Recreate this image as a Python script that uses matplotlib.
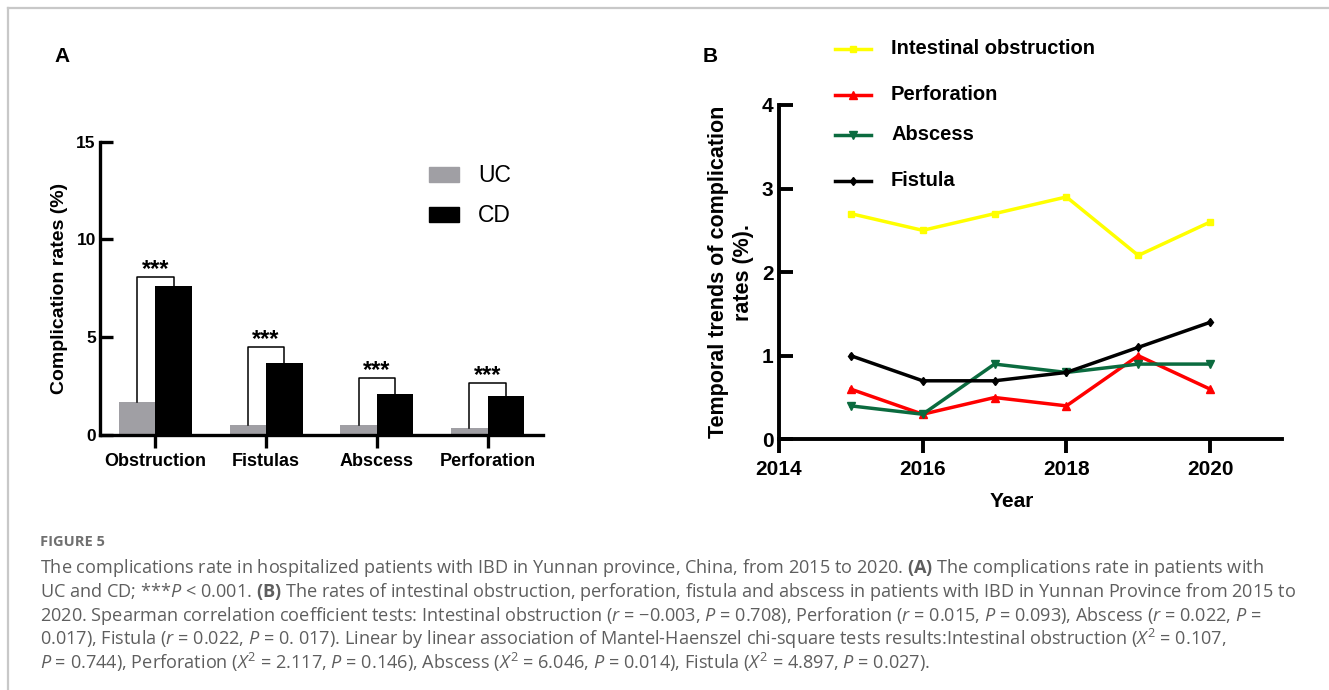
import matplotlib
matplotlib.use("Agg")
import matplotlib.pyplot as plt
import numpy as np
from matplotlib.lines import Line2D
from matplotlib.patches import Rectangle

# panel A data
categories = ["Obstruction", "Fistulas", "Abscess", "Perforation"]
uc_rates = [1.7, 0.5, 0.5, 0.35]
cd_rates = [7.6, 3.7, 2.1, 2.0]
bracket_tops = [8.1, 4.5, 2.9, 2.65]
sig_marks = ["***", "***", "***", "***"]

# panel B data
years = [2015, 2016, 2017, 2018, 2019, 2020]
obstruction = [2.7, 2.5, 2.7, 2.9, 2.2, 2.6]
perforation = [0.6, 0.3, 0.5, 0.4, 1.0, 0.6]
abscess = [0.4, 0.3, 0.9, 0.8, 0.9, 0.9]
fistula = [1.0, 0.7, 0.7, 0.8, 1.1, 1.4]

W, H = 1329, 690
ARIAL = "Liberation Sans"

plt.rcParams['mathtext.fontset'] = 'custom'
plt.rcParams['mathtext.rm'] = 'Open Sans'
plt.rcParams['mathtext.it'] = 'Open Sans:italic'
plt.rcParams['mathtext.bf'] = 'Open Sans:bold'

fig = plt.figure(figsize=(W / 100, H / 100), dpi=100)


def fx(x):
    return x / W


def fy(y):
    return 1 - y / H


# outer frame of the page
fig.add_artist(Line2D([fx(7.5), 1], [fy(7.5), fy(7.5)], color="#c8c8c8", lw=1.6))
fig.add_artist(Line2D([fx(7.5), fx(7.5)], [fy(7.5), 0], color="#c8c8c8", lw=1.6))

# ---------------- Panel A ----------------
axA = fig.add_axes([fx(100), fy(435), (543 - 100) / W, (435 - 141.7) / H])
x = np.arange(len(categories))
bw = 0.33
axA.bar(x - bw / 2, uc_rates, bw, color="#a09fa4", zorder=2)
axA.bar(x + bw / 2, cd_rates, bw, color="black", zorder=2)
for i in range(len(categories)):
    xl, xr = x[i] - bw / 2, x[i] + bw / 2
    axA.plot([xl, xl, xr, xr], [uc_rates[i], bracket_tops[i], bracket_tops[i], cd_rates[i]],
             color="black", lw=1.1, zorder=3)
    axA.text(x[i], bracket_tops[i] + 0.05, sig_marks[i], ha="center", va="baseline",
             fontsize=17, fontweight="bold", family=ARIAL)
axA.set_xlim(-0.5, 3.5)
axA.set_ylim(0, 15)
axA.set_yticks([0, 5, 10, 15])
axA.set_xticks(x)
axA.set_xticklabels(categories)
for s in ["top", "right"]:
    axA.spines[s].set_visible(False)
for s in ["left", "bottom"]:
    axA.spines[s].set_linewidth(2.4)
axA.tick_params(axis="y", direction="in", length=9, width=2.4, pad=3, labelsize=12.5)
axA.tick_params(axis="x", direction="out", length=9, width=2.4, pad=4, labelsize=13)
for lab in axA.get_xticklabels() + axA.get_yticklabels():
    lab.set_fontweight("bold")
    lab.set_family(ARIAL)
axA.set_ylabel("Complication rates (%)", fontsize=14, fontweight="bold", family=ARIAL)
axA.yaxis.set_label_coords(-0.072, 0.5)

# legend A
fig.add_artist(Rectangle((fx(429), fy(182)), 30 / W, 15 / H, color="#a09fa4"))
fig.add_artist(Rectangle((fx(429), fy(222)), 30 / W, 15 / H, color="black"))
fig.text(fx(478), fy(175), "UC", fontsize=16.5, family=ARIAL, va="center")
fig.text(fx(478), fy(215), "CD", fontsize=16.5, family=ARIAL, va="center")
fig.text(fx(62), fy(56), "A", fontsize=15, fontweight="bold", family=ARIAL, ha="center", va="center")

# ---------------- Panel B ----------------
axB = fig.add_axes([fx(779), fy(439.3), (1282 - 779) / W, (439.3 - 105) / H])
styles = [
    ("Intestinal obstruction", obstruction, "#ffff00", "s", 5, 49),
    ("Perforation", perforation, "#ff0000", "^", 5.5, 95),
    ("Abscess", abscess, "#0b6b3f", "v", 5.5, 135),
    ("Fistula", fistula, "black", "d", 4.5, 181),
]
for name, vals, col, mk, ms, ly in styles:
    axB.plot(years, vals, color=col, lw=2.5, marker=mk, ms=ms, zorder=3)
    fig.add_artist(Line2D([fx(835), fx(871)], [fy(ly), fy(ly)], color=col, lw=2.5))
    fig.add_artist(Line2D([fx(853)], [fy(ly)], color=col, marker=mk, ms=ms))
    fig.text(fx(891), fy(ly), name, fontsize=14.5, fontweight="bold", family=ARIAL, va="center")

axB.set_xlim(2014, 2021)
axB.set_ylim(0, 4)
axB.set_xticks([2014, 2016, 2018, 2020])
axB.set_yticks([0, 1, 2, 3, 4])
for s in ["top", "right"]:
    axB.spines[s].set_visible(False)
for s in ["left", "bottom"]:
    axB.spines[s].set_linewidth(2.8)
axB.tick_params(axis="y", direction="in", length=10, width=2.8, pad=4, labelsize=15)
axB.tick_params(axis="x", direction="out", length=10, width=2.8, pad=5, labelsize=15)
for lab in axB.get_xticklabels() + axB.get_yticklabels():
    lab.set_fontweight("bold")
    lab.set_family(ARIAL)
axB.set_ylabel("Temporal trends of complication\nrates (%).", fontsize=15.5, fontweight="bold",
               family=ARIAL, linespacing=1.25)
axB.yaxis.set_label_coords(-0.05, 0.5)
axB.set_xlabel("Year", fontsize=15, fontweight="bold", family=ARIAL)
axB.xaxis.set_label_coords(0.463, -0.157)
fig.text(fx(710), fy(56), "B", fontsize=15, fontweight="bold", family=ARIAL, ha="center", va="center")

# ---------------- caption ----------------
cap_color = "#5e5e5e"
fig.text(fx(40.5), fy(546), "FIGURE 5", fontsize=10.5, fontweight="bold", color="#707070",
         family=["Open Sans", "DejaVu Sans"])
caption = [
    r"The complications rate in hospitalized patients with IBD in Yunnan province, China, from 2015 to 2020. $\mathbf{(A)}$ The complications rate in patients with",
    r"UC and CD; ***$\mathit{P}$ < 0.001. $\mathbf{(B)}$ The rates of intestinal obstruction, perforation, fistula and abscess in patients with IBD in Yunnan Province from 2015 to",
    r"2020. Spearman correlation coefficient tests: Intestinal obstruction ($\mathit{r}$ = −0.003, $\mathit{P}$ = 0.708), Perforation ($\mathit{r}$ = 0.015, $\mathit{P}$ = 0.093), Abscess ($\mathit{r}$ = 0.022, $\mathit{P}$ =",
    r"0.017), Fistula ($\mathit{r}$ = 0.022, $\mathit{P}$ = 0. 017). Linear by linear association of Mantel-Haenszel chi-square tests results:Intestinal obstruction ($\mathit{X}^{2}$ = 0.107,",
    r"$\mathit{P}$ = 0.744), Perforation ($\mathit{X}^{2}$ = 2.117, $\mathit{P}$ = 0.146), Abscess ($\mathit{X}^{2}$ = 6.046, $\mathit{P}$ = 0.014), Fistula ($\mathit{X}^{2}$ = 4.897, $\mathit{P}$ = 0.027).",
]
line_y = [573, 597, 621, 645, 669]
for txt, yy in zip(caption, line_y):
    fig.text(fx(40.5), fy(yy), txt, fontsize=13.1, color=cap_color, va="baseline",
             family=["Open Sans", "DejaVu Sans"])

fig.savefig("out.png", dpi=100)
